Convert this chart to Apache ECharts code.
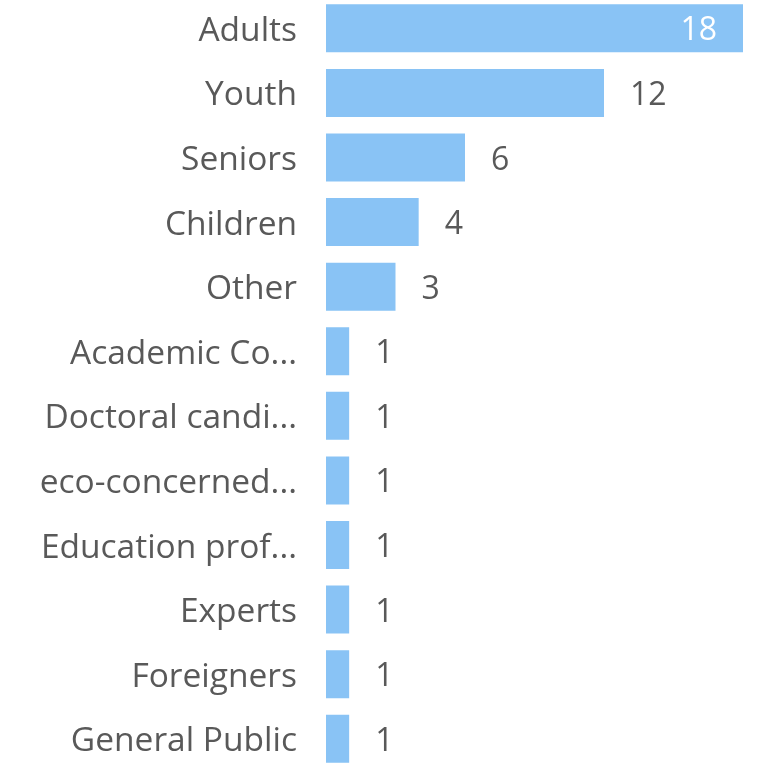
<!DOCTYPE html>
<html><head><meta charset="utf-8">
<script src="https://cdn.jsdelivr.net/npm/echarts@6/dist/echarts.min.js"></script>
<style>html,body{margin:0;padding:0;background:#fff;overflow:hidden}#c{width:768px;height:780px;margin-top:-4px}</style>
</head><body><div id="c"></div>
<script>
const categories = ["Adults","Youth","Seniors","Children","Other","Academic Co...","Doctoral candi...","eco-concerned...","Education prof...","Experts","Foreigners","General Public"];
const values = [18,12,6,4,3,1,1,1,1,1,1,1];

const FONT = '"Open Sans", sans-serif';
const chart = echarts.init(document.getElementById('c'));
chart.setOption({
  animation: false,
  grid: {left: 326, right: 25, top: 0, bottom: 5, containLabel: false},
  xAxis: {type: 'value', min: 0, max: 18, show: false},
  yAxis: {
    type: 'category', data: categories, inverse: true,
    axisLine: {show: false}, axisTick: {show: false},
    axisLabel: {
      margin: 29,
      formatter: v => '{a|' + v + '}',
      rich: {a: {color: '#595959', fontSize: 33.5, fontFamily: FONT, padding: [6, 0, 0, 0]}}
    }
  },
  series: [{
    type: 'bar',
    data: values.map((v, i) => i === 0 ? {value: v, label: {position: 'insideRight', color: '#ffffff'}} : v),
    barWidth: 48,
    itemStyle: {color: '#89c3f5'},
    label: {show: true, position: 'right', distance: 26, color: '#595959', fontSize: 32, fontFamily: FONT, offset: [0, 3]}
  }]
});
</script></body></html>
